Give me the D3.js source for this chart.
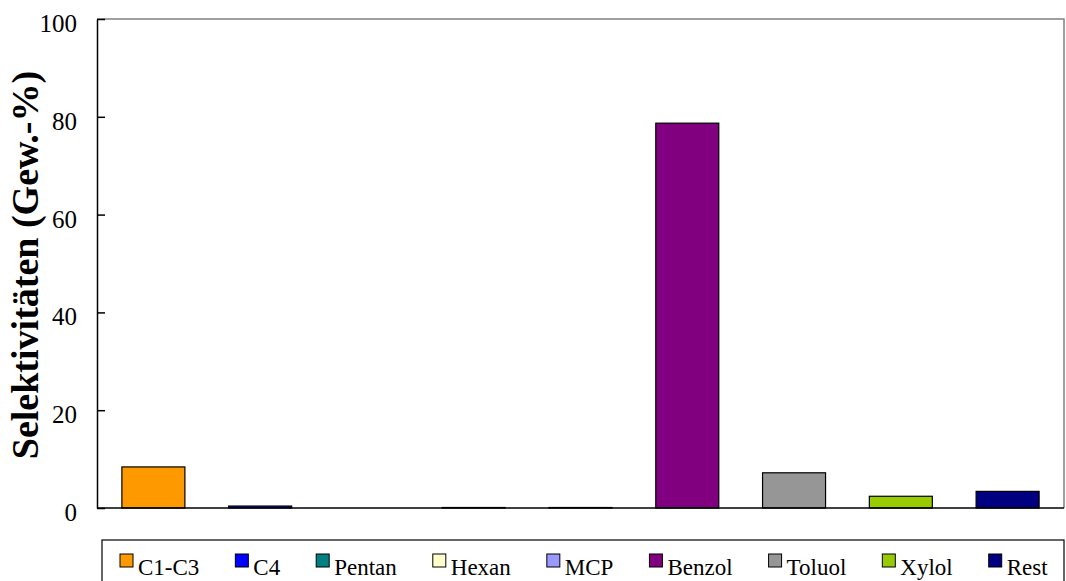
<!DOCTYPE html>
<html>
<head>
<meta charset="utf-8">
<script src="https://cdn.jsdelivr.net/npm/d3@7"></script>
<style>
  html, body { margin: 0; padding: 0; background: #fff; }
  svg { display: block; }
  text { font-family: "Liberation Serif", "Times New Roman", serif; fill: #000; }
</style>
</head>
<body>
<svg id="chart" width="1066" height="581"></svg>
<script>
// Product selectivities (wt.-%)
const categories = ["C1-C3", "C4", "Pentan", "Hexan", "MCP", "Benzol", "Toluol", "Xylol", "Rest"];
const selectivity = [8.4, 0.4, 0.0, 0.1, 0.1, 78.7, 7.2, 2.4, 3.4];
const barColors = ["#FF9900", "#0000FF", "#008080", "#FFFFCC", "#9999FF", "#800080", "#969696", "#99CC00", "#000080"];
const yTicks = [0, 20, 40, 60, 80, 100];
const yTitle = "Selektivitäten (Gew.-%)";

const serif = "'Liberation Serif', 'Times New Roman', serif";
const svg = d3.select("#chart");

const frame = { left: 97, right: 1064, top: 19, bottom: 508 };

const x = d3.scaleBand()
  .domain(categories)
  .range([100, 1061])
  .paddingInner(0.41)
  .paddingOuter(0.205);

const y = d3.scaleLinear()
  .domain([0, 100])
  .range([frame.bottom, frame.top]);

// top and right frame lines
svg.append("path")
  .attr("d", `M${frame.left},${frame.top}H${frame.right}V${frame.bottom}`)
  .attr("fill", "none")
  .attr("stroke", "#808080")
  .attr("stroke-width", 1.5);

// bars
svg.append("g")
  .selectAll("rect")
  .data(categories.map((c, i) => ({ c, v: selectivity[i], color: barColors[i] })))
  .join("rect")
  .attr("x", d => x(d.c))
  .attr("width", x.bandwidth())
  .attr("y", d => y(d.v))
  .attr("height", d => y(0) - y(d.v))
  .attr("fill", d => d.color)
  .attr("stroke", d => d.v > 0 ? "#000" : "none")
  .attr("stroke-width", 1.2);

// y axis with inward ticks
const yAxis = svg.append("g")
  .attr("transform", `translate(${frame.left},0)`)
  .call(d3.axisLeft(y).tickValues(yTicks).tickSizeInner(-8).tickSizeOuter(0).tickPadding(20));
yAxis.select(".domain").attr("stroke", "#000").attr("stroke-width", 1.5);
yAxis.selectAll(".tick line").attr("stroke", "#000").attr("stroke-width", 1.5);
yAxis.selectAll(".tick text")
  .style("font-family", serif)
  .style("font-size", "25px")
  .attr("fill", "#000")
  .attr("dy", "0.5em");

// x axis baseline
svg.append("line")
  .attr("x1", frame.left).attr("x2", frame.right)
  .attr("y1", y(0)).attr("y2", y(0))
  .attr("stroke", "#000")
  .attr("stroke-width", 1.5);

// y axis title
svg.append("text")
  .attr("transform", `translate(38,265) rotate(-90)`)
  .attr("text-anchor", "middle")
  .style("font-family", serif)
  .style("font-size", "38px")
  .style("font-weight", "bold")
  .text(yTitle);

// legend
const legend = svg.append("g");
legend.append("rect")
  .attr("x", 102).attr("y", 540)
  .attr("width", 962).attr("height", 60)
  .attr("fill", "#fff")
  .attr("stroke", "#000")
  .attr("stroke-width", 1.2);

let lx = 120;
categories.forEach((c, i) => {
  const item = legend.append("g").attr("transform", `translate(${lx},0)`);
  item.append("rect")
    .attr("x", 0).attr("y", 554)
    .attr("width", 13).attr("height", 13)
    .attr("fill", barColors[i])
    .attr("stroke", "#000")
    .attr("stroke-width", 1);
  const t = item.append("text")
    .attr("x", 18).attr("y", 575)
    .style("font-family", serif)
    .style("font-size", "23px")
    .text(c);
  lx += 18 + t.node().getComputedTextLength() + 36;
});
</script>
</body>
</html>
